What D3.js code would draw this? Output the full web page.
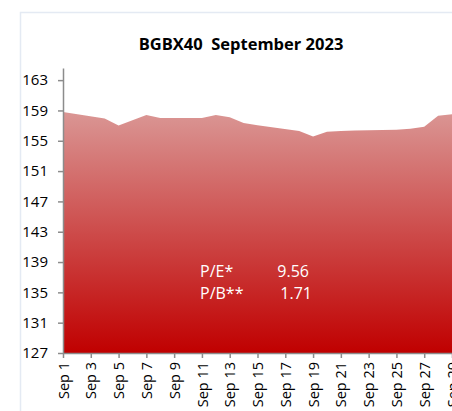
<!DOCTYPE html>
<html>
<head>
<meta charset="utf-8">
<script src="https://cdn.jsdelivr.net/npm/d3@7"></script>
<style>
  body { margin: 0; background: #ffffff; }
  text { font-family: "Open Sans", "Noto Sans", sans-serif; white-space: pre; }
</style>
</head>
<body>
<div id="chart"></div>
<script>
// trading days in September 2023
var days = ["2023-09-01", "2023-09-04", "2023-09-05", "2023-09-06", "2023-09-07",
  "2023-09-08", "2023-09-11", "2023-09-12", "2023-09-13", "2023-09-14",
  "2023-09-15", "2023-09-18", "2023-09-19", "2023-09-20", "2023-09-21",
  "2023-09-22", "2023-09-25", "2023-09-26", "2023-09-27", "2023-09-28",
  "2023-09-29"];
var closes = [158.78, 157.95, 157.03, 157.7, 158.39,
  158.0, 158.0, 158.4, 158.1, 157.35,
  157.05, 156.3, 155.55, 156.2, 156.3,
  156.35, 156.45, 156.6, 156.85, 158.3,
  158.5];
var y_ticks = [127, 131, 135, 139, 143, 147, 151, 155, 159, 163];
var tick_days = ["2023-09-01", "2023-09-03", "2023-09-05", "2023-09-07", "2023-09-09",
  "2023-09-11", "2023-09-13", "2023-09-15", "2023-09-17", "2023-09-19",
  "2023-09-21", "2023-09-23", "2023-09-25", "2023-09-27", "2023-09-29"];
var ratios = [
  { label: "P/E*", value: "9.56" },
  { label: "P/B**", value: "1.71" },
];

var width = 452, height = 411;
var margins = { top: 68, right: 0, bottom: 58, left: 63 };
var parse = d3.timeParse("%Y-%m-%d");

var data = days.map((d, i) => ({ date: parse(d), value: closes[i] }));

var svg = d3.select("#chart")
  .append("svg")
  .attr("width", width)
  .attr("height", height);

// chart border
svg.append("rect")
  .attr("x", 20.5)
  .attr("y", 12.5)
  .attr("width", 600)
  .attr("height", 600)
  .attr("fill", "#ffffff")
  .attr("stroke", "#e4eaf3")
  .attr("stroke-width", 1.5);

var x = d3.scaleTime()
  .domain([parse("2023-09-01"), parse("2023-09-29")])
  .range([margins.left, 452]);

var y = d3.scaleLinear()
  .domain([127, 164.6])
  .range([height - margins.bottom, margins.top]);

// gradient fill
var grad = svg.append("defs")
  .append("linearGradient")
  .attr("id", "area-grad")
  .attr("gradientUnits", "userSpaceOnUse")
  .attr("x1", 0).attr("x2", 0)
  .attr("y1", y(d3.max(closes)))
  .attr("y2", y(127));
grad.append("stop").attr("offset", "0%").attr("stop-color", "#da9694");
grad.append("stop").attr("offset", "100%").attr("stop-color", "#c00000");

var area = d3.area()
  .x((d) => x(d.date))
  .y0(y(127))
  .y1((d) => y(d.value));

svg.append("path")
  .datum(data)
  .attr("d", area)
  .attr("fill", "url(#area-grad)");

// y axis
var y_axis = d3.axisLeft(y)
  .tickValues(y_ticks)
  .tickSize(5)
  .tickSizeOuter(0)
  .tickPadding(10);

var gy = svg.append("g")
  .attr("transform", "translate(" + margins.left + ",0)")
  .call(y_axis);
gy.selectAll("text")
  .attr("font-size", "15px")
  .attr("fill", "#000");

// x axis
var x_axis = d3.axisBottom(x)
  .tickValues(tick_days.map(parse))
  .tickFormat(d3.timeFormat("Sep %-d"))
  .tickSize(5)
  .tickSizeOuter(0);

var gx = svg.append("g")
  .attr("transform", "translate(0," + y(127) + ")")
  .call(x_axis);
gx.selectAll("text")
  .attr("font-size", "14.5px")
  .attr("fill", "#000")
  .attr("text-anchor", "end")
  .attr("transform", "rotate(-90)")
  .attr("x", -9)
  .attr("y", 0)
  .attr("dy", "0.35em");

svg.selectAll(".domain, .tick line")
  .attr("stroke", "#8c8c8c")
  .attr("stroke-width", 1.5);

// title
svg.append("text")
  .attr("x", 241)
  .attr("y", 50)
  .attr("text-anchor", "middle")
  .attr("font-size", "16.5px")
  .attr("font-weight", "bold")
  .attr("fill", "#000")
  .text("BGBX40  September 2023");

// P/E and P/B labels
var lab = svg.selectAll(".ratio")
  .data(ratios)
  .enter()
  .append("g")
  .attr("class", "ratio")
  .attr("transform", (d, i) => "translate(0," + (277 + i * 22) + ")");

lab.append("text")
  .attr("x", 200)
  .attr("font-size", "16px")
  .attr("fill", "#ffffff")
  .text((d) => d.label);

lab.append("text")
  .attr("x", (d, i) => (i === 0 ? 309 : 312))
  .attr("text-anchor", "end")
  .attr("font-size", "16px")
  .attr("fill", "#ffffff")
  .text((d) => d.value);
</script>
</body>
</html>
